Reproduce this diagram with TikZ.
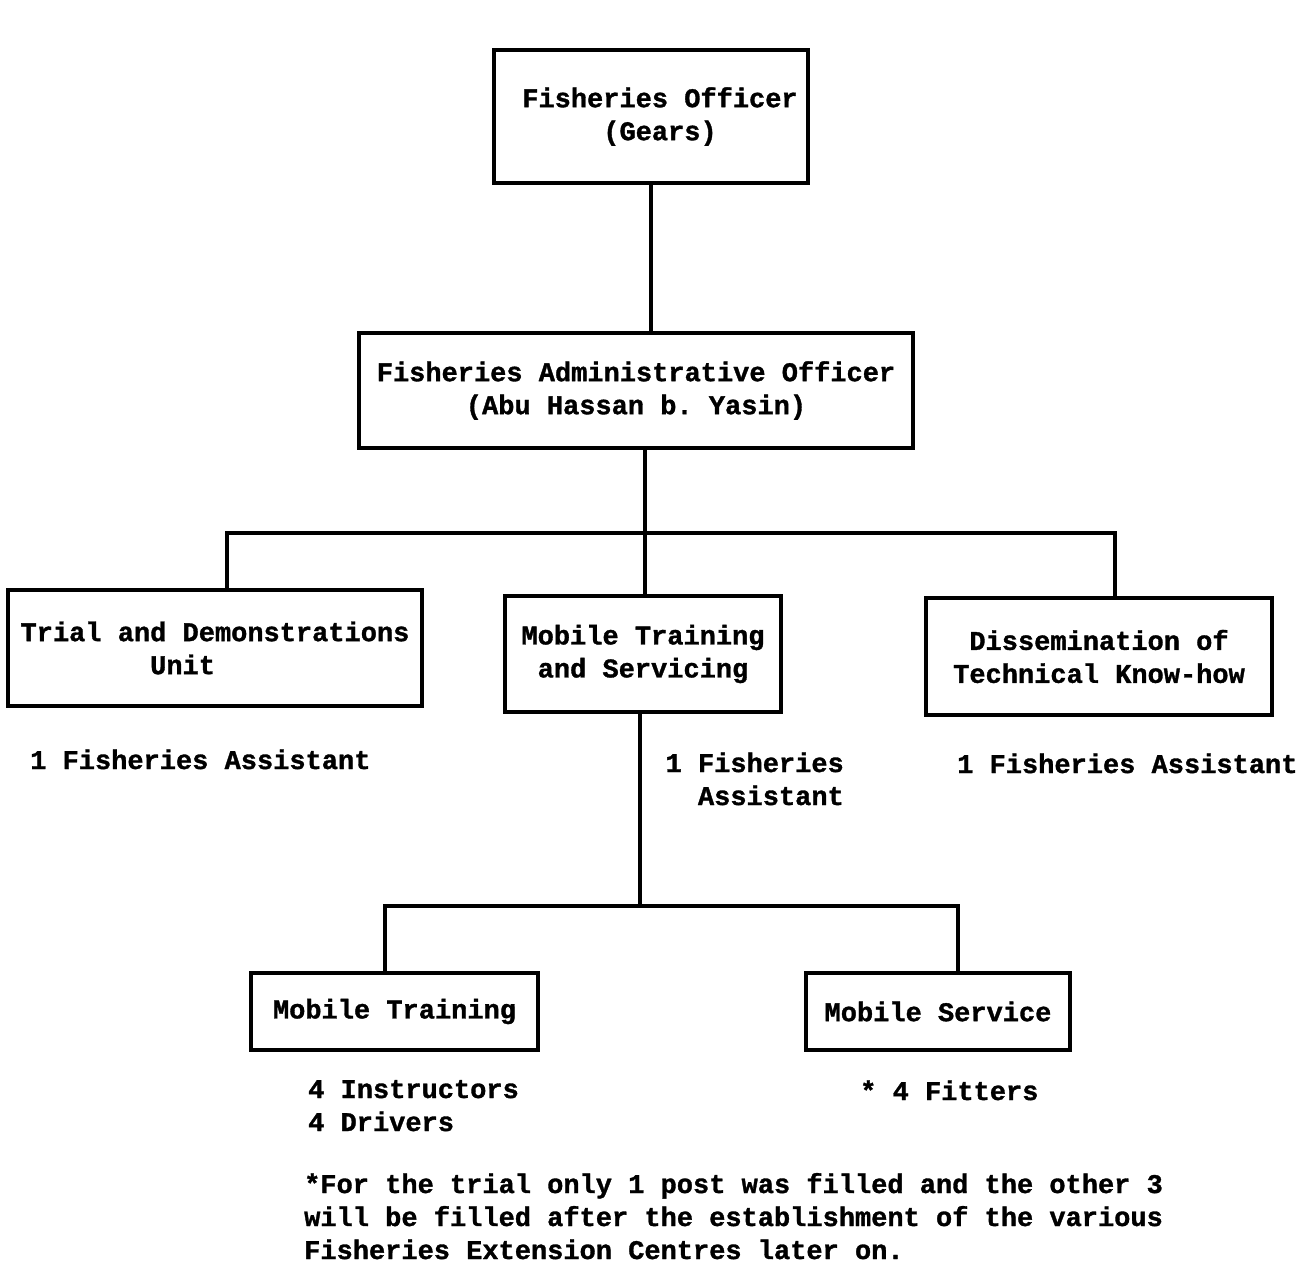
\documentclass[tikz,border=0pt]{standalone}
\usepackage{fontspec}
\setmonofont[BoldFeatures={FakeBold=1.2}]{Liberation Mono}
\usepackage{tikz}
\usetikzlibrary{positioning, calc}

\tikzset{
  typed/.style={font=\ttfamily\bfseries\fontsize{27}{33}\selectfont},
  unitbox/.style={typed, draw, line width=3.2pt, inner sep=0pt, align=center},
  staff/.style={typed, anchor=base west, inner sep=0pt, align=left},
  link/.style={line width=3.2pt}
}

\begin{document}
\begin{tikzpicture}[x=1pt, y=-1pt]
  \useasboundingbox (0,0) rectangle (1306,1268);

  % boxes of the chart
  \node[unitbox, minimum width=314pt, minimum height=133pt] (officer) at (651,116.5)
    {\hspace*{18pt}Fisheries Officer\\\hspace*{18pt}(Gears)};
  \node[unitbox, minimum width=554pt, minimum height=115pt] (admin) at (636,390.5)
    {Fisheries Administrative Officer\\(Abu Hassan b. Yasin)};
  \node[unitbox, align=left, minimum width=414pt, minimum height=116pt] (trial) at (215,648)
    {Trial and Demonstrations\\\phantom{12345678}Unit};
  \node[unitbox, minimum width=276pt, minimum height=116pt] (mobile) at (643,654)
    {Mobile Training\\and Servicing};
  \node[unitbox, minimum width=346pt, minimum height=117pt] (knowhow) at (1099,656.5)
    {Dissemination of\\Technical Know-how};
  \node[unitbox, minimum width=287pt, minimum height=77pt] (training) at (394.5,1011.5)
    {Mobile Training};
  \node[unitbox, minimum width=264pt, minimum height=77pt] (service) at (938,1011.5)
    {Mobile Service};

  % staff under each unit (base = last line)
  \node[staff] (trialstaff) at (30,769) {1 Fisheries Assistant};
  \node[staff, anchor=base east, align=right] (mobilestaff) at (844,805)
    {1 Fisheries\\Assistant};
  \node[staff] (knowstaff) at (957,773) {1 Fisheries Assistant};
  \node[staff] (trainstaff) at (308,1131) {4 Instructors\\4 Drivers};
  \node[staff] (servstaff) at (860,1100) {* 4 Fitters};
  \node[staff] (footnote) at (304,1259)
    {*For the trial only 1 post was filled and the other 3\\
     will be filled after the establishment of the various\\
     Fisheries Extension Centres later on.};

  % connectors
  \coordinate (bar1) at (645,533);
  \coordinate (bar2) at (640,906);
  \draw[link] (officer.south) -- (officer.south |- admin.north);
  \draw[link] (admin.south -| bar1) -- (bar1);
  \draw[link] ([xshift=12pt]trial.north) |- (bar1) -| ([xshift=16pt]knowhow.north);
  \draw[link] (bar1) -- (bar1 |- mobile.north);
  \draw[link] (mobile.south -| bar2) -- (bar2);
  \draw[link] ([xshift=-9.5pt]training.north) |- (bar2) -| ([xshift=20pt]service.north);
\end{tikzpicture}
\end{document}
